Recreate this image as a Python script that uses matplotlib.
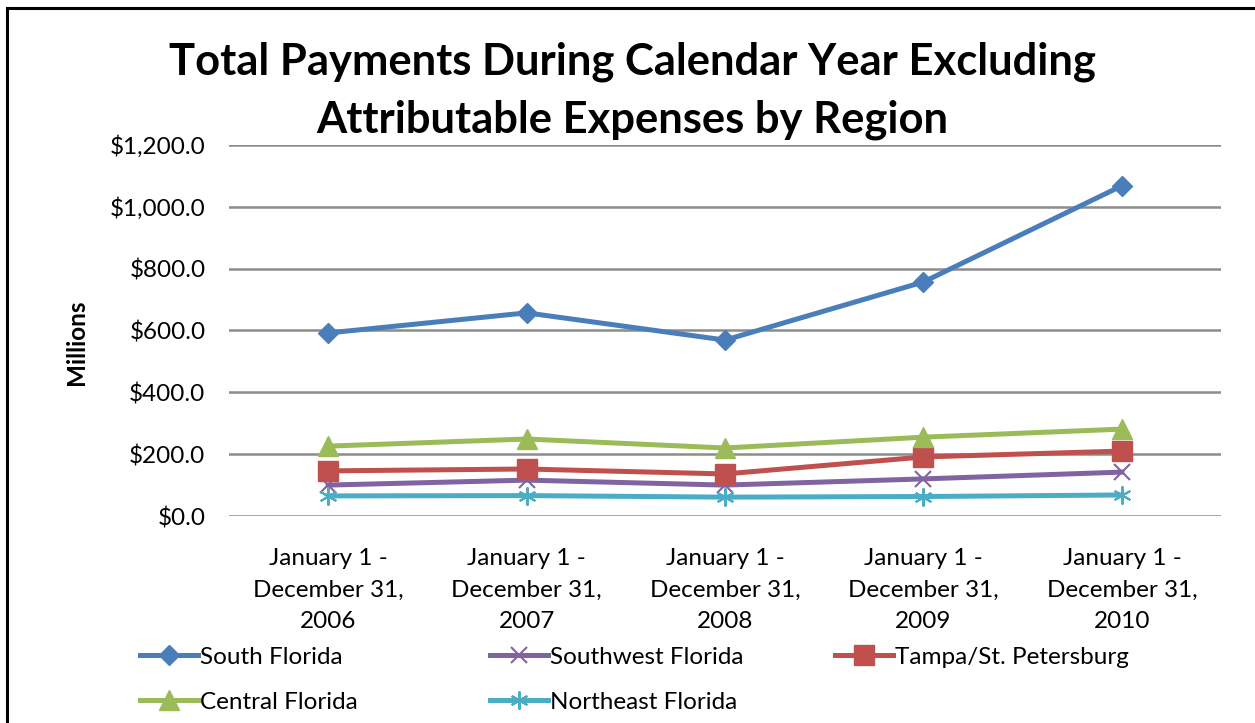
import matplotlib.pyplot as plt
from matplotlib.patches import Rectangle
from matplotlib.ticker import FuncFormatter

plt.rcParams['font.family'] = ['Lato', 'DejaVu Sans']

# data (millions of dollars)
periods = ['January 1 -\nDecember 31,\n2006', 'January 1 -\nDecember 31,\n2007',
           'January 1 -\nDecember 31,\n2008', 'January 1 -\nDecember 31,\n2009',
           'January 1 -\nDecember 31,\n2010']
south_florida = [592, 657, 569, 757, 1068]
southwest_florida = [100, 116, 100, 120, 142]
tampa_st_pete = [146, 152, 136, 191, 210]
central_florida = [226, 249, 220, 255, 281]
northeast_florida = [65, 66, 61, 63, 68]
title_lines = ['Total Payments During Calendar Year Excluding',
               'Attributable Expenses by Region']

fig = plt.figure(figsize=(12.55, 7.23), dpi=100)
ax = fig.add_axes([0.1825, 0.2863, 0.7905, 0.5132])

x = range(len(periods))
lw = 3.6
h_sf, = ax.plot(x, south_florida, color='#4A7EBB', lw=lw, marker='D', ms=10.5, label='South Florida', zorder=5)
h_sw, = ax.plot(x, southwest_florida, color='#8064A2', lw=lw, marker='x', ms=12, mew=1.5, label='Southwest Florida', zorder=3)
h_tp, = ax.plot(x, tampa_st_pete, color='#C0504D', lw=lw, marker='s', ms=14, label='Tampa/St. Petersburg', zorder=4)
h_cf, = ax.plot(x, central_florida, color='#9BBB59', lw=lw, marker='^', ms=14, label='Central Florida', zorder=4)
h_ne, = ax.plot(x, northeast_florida, color='#4BACC6', lw=lw, marker=(6, 2, 0), ms=13, mew=1.5, label='Northeast Florida', zorder=3)

ax.set_xlim(-0.5, 4.5)
ax.set_ylim(0, 1200)
ax.set_yticks(range(0, 1201, 200))
ax.yaxis.set_major_formatter(FuncFormatter(lambda v, p: '${:,.1f}'.format(v)))
ax.set_xticks(list(x))
ax.set_xticklabels(periods, fontsize=17.5, linespacing=1.63)
ax.tick_params(axis='y', labelsize=17.5, length=0, pad=17)
ax.tick_params(axis='x', length=0, pad=23)
ax.grid(axis='y', color='#8C8C8C', lw=1.8)
ax.set_axisbelow(True)
for s in ax.spines.values():
    s.set_visible(False)

ax.set_ylabel('Millions', fontsize=17.5, fontweight='bold')
ax.yaxis.set_label_coords(-0.142, 0.468)

# title as two separate lines, each centred
fig.text(0.504, 0.914, title_lines[0], ha='center', va='center', fontsize=31.3, fontweight='bold')
fig.text(0.504, 0.834, title_lines[1], ha='center', va='center', fontsize=31.3, fontweight='bold')

# legend laid out row by row in three columns, like the original
columns = [([h_sf, h_cf], 0.1116), ([h_sw, h_ne], 0.3904), ([h_tp], 0.6653)]
for hs, xpos in columns:
    fig.legend(handles=hs, labels=[h.get_label() for h in hs],
               loc='upper left', bbox_to_anchor=(xpos, 0.1058), frameon=False,
               fontsize=17.5, handlelength=2.4, handletextpad=0.08,
               labelspacing=1.0, borderaxespad=0, borderpad=0)

# chart frame (top and left edges visible)
fig.patches.append(Rectangle((7 / 1255, -0.1), 1.2, 1.1 - 8 / 723, transform=fig.transFigure,
                             fill=False, edgecolor='black', lw=2.2, clip_on=False))

fig.savefig('out.png', dpi=100)
